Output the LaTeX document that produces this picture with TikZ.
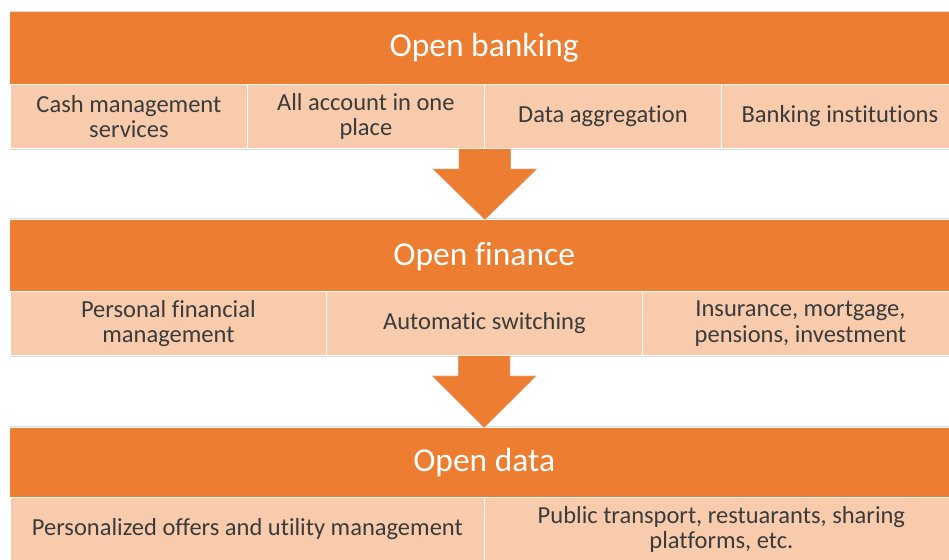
\documentclass[tikz,border=0pt]{standalone}
\usepackage{fontspec}
\setmainfont[Ligatures={NoCommon}]{Carlito}
\usetikzlibrary{calc}
\definecolor{hdrc}{HTML}{ED7D31}
\definecolor{cellc}{HTML}{F8CBAD}
\definecolor{txtc}{HTML}{3B3B3B}
\definecolor{shadc}{HTML}{D9D9D9}
\tikzset{
  hdr/.style={fill=hdrc, draw=none, anchor=north west, minimum width=948pt, inner sep=0pt,
    text=white, font=\fontsize{33.5}{38}\selectfont},
  cellbox/.style={fill=cellc, draw=white, line width=0.8pt, anchor=north west, inner sep=0pt,
    align=center, text=txtc, font=\fontsize{24.5}{25.5}\selectfont},
  arrowfill/.style={fill=hdrc, draw=shadc, line width=0.5pt, line join=miter},
  shad/.style={draw=shadc, line width=0.8pt}
}
\begin{document}
\begin{tikzpicture}[x=1pt,y=-1pt]
\useasboundingbox (0,0) rectangle (949,559);
\clip (0,0) rectangle (949,559);
\fill[white] (0,0) rectangle (949,559);
% shadows
\draw[shad] (10,11) -- (958,11);
\draw[shad] (10,149) -- (958,149);
\draw[shad] (10,218.5) -- (958,218.5);
\draw[shad] (10,356) -- (958,356);
\draw[shad] (10,426.5) -- (958,426.5);
% Row 1
\node[hdr, minimum height=72pt] (h1) at (10,12) {Open banking};
\node[cellbox, minimum width=237pt, minimum height=64pt] (c11) at (10,84) {Cash management\\services};
\node[cellbox, minimum width=237pt, minimum height=64pt] (c12) at (247,84) {All account in one\\place};
\node[cellbox, minimum width=237pt, minimum height=64pt] (c13) at (484,84) {Data aggregation};
\node[cellbox, minimum width=237pt, minimum height=64pt] (c14) at (721,84) {Banking institutions};
% Row 2
\node[hdr, minimum height=72pt] (h2) at (10,220) {Open finance};
\node[cellbox, minimum width=316pt, minimum height=64pt] (c21) at (10,291) {Personal financial\\management};
\node[cellbox, minimum width=316pt, minimum height=64pt] (c22) at (326,291) {Automatic switching};
\node[cellbox, minimum width=316pt, minimum height=64pt] (c23) at (642,291) {Insurance, mortgage,\\pensions, investment};
% Row 3
\node[hdr, minimum height=69pt] (h3) at (10,428) {Open data};
\node[cellbox, minimum width=474pt, minimum height=64pt] (c31) at (10,497) {Personalized offers and utility management};
\node[cellbox, minimum width=474pt, minimum height=64pt] (c32) at (484,497) {Public transport, restuarants, sharing\\platforms, etc.};
% Arrows
\coordinate (a1s) at (c12.south east);
\coordinate (a1t) at (h2.north);
\path[arrowfill] ($(a1s)+(-26,0)$) -- ($(a1s)+(-26,20)$) -- ($(a1s)+(-52.5,20)$) -- (a1t -| a1s)
  -- ($(a1s)+(52.5,20)$) -- ($(a1s)+(26,20)$) -- ($(a1s)+(26,0)$);
\coordinate (a2s) at (h2.north |- c22.south);
\coordinate (a2t) at (h3.north);
\path[arrowfill] ($(a2s)+(-26,0)$) -- ($(a2s)+(-26,20)$) -- ($(a2s)+(-52.5,20)$) -- (a2t)
  -- ($(a2s)+(52.5,20)$) -- ($(a2s)+(26,20)$) -- ($(a2s)+(26,0)$);
\end{tikzpicture}
\end{document}
